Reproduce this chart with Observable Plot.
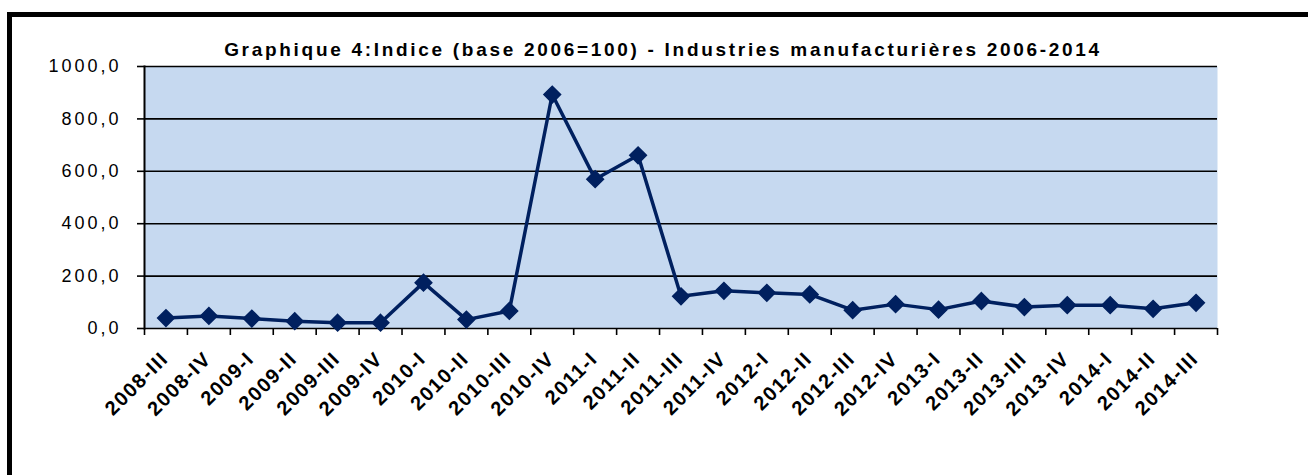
<!DOCTYPE html>
<html><head><meta charset="utf-8">
<script src="https://cdn.jsdelivr.net/npm/d3@7"></script>
<script src="https://cdn.jsdelivr.net/npm/@observablehq/plot@0.6"></script>
<style>
html,body{margin:0;padding:0;background:#fff;}
body{width:1308px;height:475px;overflow:hidden;position:relative;font-family:"Liberation Sans",Arial,sans-serif;}
#frame{position:absolute;left:7px;top:12px;width:1400px;height:600px;border:5px solid #000;box-sizing:border-box;}
#chart{position:absolute;left:0;top:0;}
#title{position:absolute;left:0;width:1326px;top:40px;text-align:center;font-weight:bold;font-size:19px;line-height:20px;letter-spacing:2.7px;color:#000;white-space:nowrap;}
g[aria-label="y-axis tick label"] text{letter-spacing:3px;}
g[aria-label="x-axis tick label"] text{letter-spacing:1.5px;}
</style>
</head><body>
<div id="frame"></div>
<div id="chart"></div>
<div id="title">Graphique 4:Indice (base 2006=100) - Industries manufacturières 2006-2014</div>
<script>
const categories = ["2008-III","2008-IV","2009-I","2009-II","2009-III","2009-IV","2010-I","2010-II","2010-III","2010-IV","2011-I","2011-II","2011-III","2011-IV","2012-I","2012-II","2012-III","2012-IV","2013-I","2013-II","2013-III","2013-IV","2014-I","2014-II","2014-III"];
const values = [40,48,38,28,22,22,175,34,67,893,570,661,123,144,136,130,70,93,72,105,82,89,89,75,98];
const yTicks = [0,200,400,600,800,1000];

const n = categories.length;
const rows = categories.map((c, i) => ({i, cat: c, v: values[i]}));
const fmt = d => d3.format(".1f")(d).replace(".", ",");
const navy = "#00205f";

const chart = Plot.plot({
  width: 1308,
  height: 475,
  marginLeft: 144,
  marginRight: 91,
  marginTop: 66,
  marginBottom: 147,
  style: {background: "transparent", fontFamily: "'Liberation Sans', Arial, sans-serif", color: "#000"},
  x: {domain: [-0.5, n - 0.5], axis: null, label: null},
  y: {domain: [0, 1000], axis: null, label: null},
  marks: [
    Plot.frame({fill: "#c6d9f0", stroke: null}),
    Plot.gridY(yTicks, {stroke: "#000", strokeOpacity: 1, strokeWidth: 1.6}),
    Plot.axisY(yTicks, {label: null, tickFormat: fmt, tickSize: 7, tickPadding: 16, fontSize: 18, stroke: "#000", strokeWidth: 1.6}),
    Plot.frame({anchor: "left", stroke: "#000", strokeWidth: 2}),
    Plot.axisX(d3.range(n + 1).map(i => i - 0.5), {label: null, tickFormat: () => "", tickSize: 7, stroke: "#000", strokeWidth: 1.6}),
    Plot.axisX(d3.range(n), {label: null, tickFormat: i => categories[i], tickSize: 0, tickPadding: 27, dx: -1, tickRotate: -45, fontSize: 20, fontWeight: "bold"}),
    Plot.line(rows, {x: "i", y: "v", stroke: navy, strokeWidth: 3.5}),
    Plot.dot(rows, {x: "i", y: "v", symbol: "diamond2", r: 7.5, fill: navy, stroke: navy})
  ]
});
document.getElementById("chart").appendChild(chart);
</script>
</body></html>
